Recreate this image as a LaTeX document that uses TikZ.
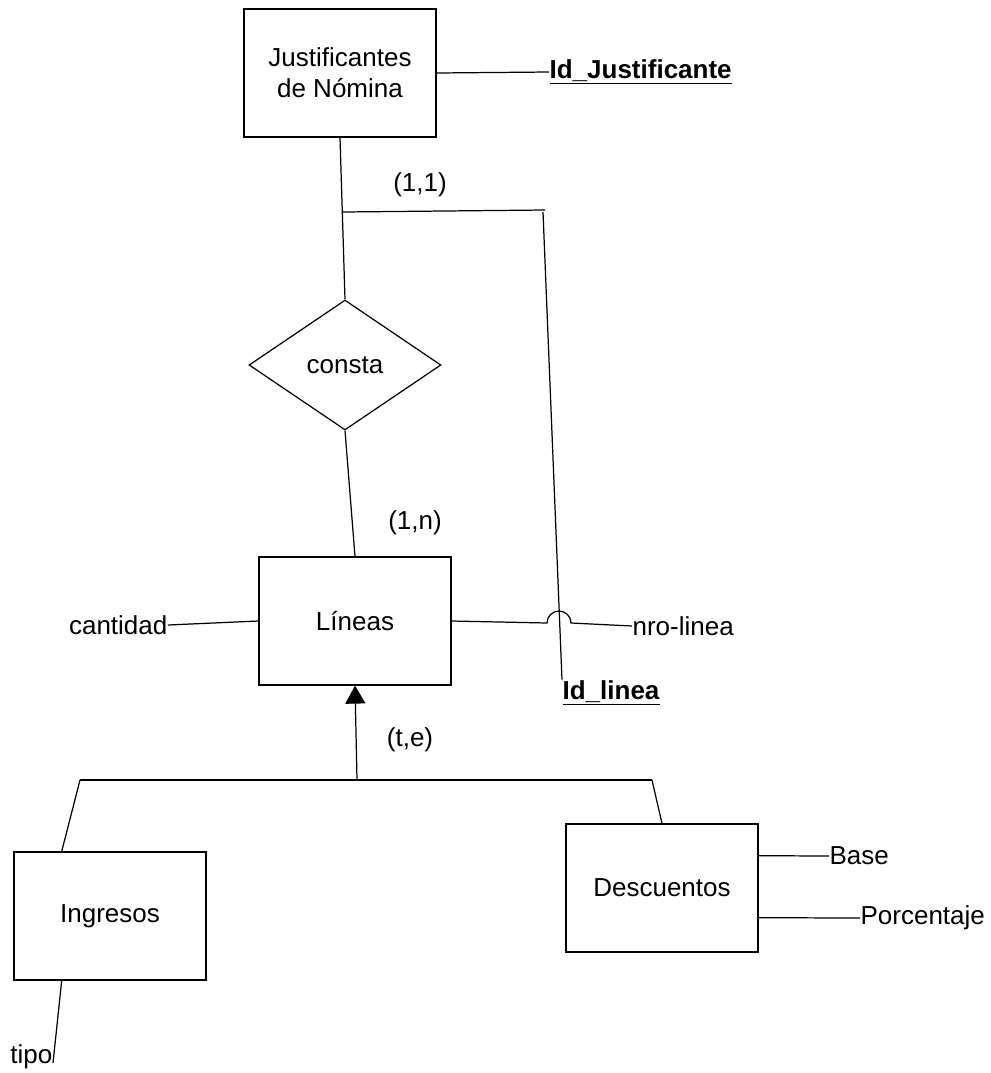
\documentclass[tikz,border=0pt]{standalone}
\usepackage{fontspec}
\setmainfont{Liberation Sans}
\usetikzlibrary{arrows.meta, shapes.geometric, calc}

\begin{document}
\begin{tikzpicture}[x=0.02cm, y=-0.02cm,
        >=Stealth,
        every node/.style={font=\fontsize{14.8}{17.5}\selectfont},
        every path/.style={line width=0.7pt},
        entity/.style={draw, minimum width=3.84cm, minimum height=2.56cm, align=center},
        relation/.style={draw, diamond, aspect=1.5, inner sep=0pt, minimum width=3.84cm, minimum height=2.6cm},
        attr/.style={inner sep=0pt},
        card/.style={inner sep=0pt}]

        \useasboundingbox (0,0) rectangle (991,1073);

        % Entities and relation
        \node[entity] (jn) at (340,73) {Justificantes\\de Nómina};
        \node[relation] (cons) at (345,365) {consta};
        \node[entity] (lin) at (355,621) {Líneas};
        \node[entity] (ing) at (110,916) {Ingresos};
        \node[entity] (des) at (662,888) {Descuentos};

        % Attributes
        \node[attr, anchor=west] (idj) at (549,72) {\underline{\textbf{Id\_Justificante}}};
        \node[attr, anchor=east] (cant) at (168,625) {cantidad};
        \node[attr, anchor=west] (nro) at (632,626) {nro-linea};
        \node[attr, anchor=west] (idl) at (562,693) {\underline{\textbf{Id\_linea}}};
        \node[attr, anchor=west] (base) at (829,856) {Base};
        \node[attr, anchor=west] (porc) at (860,918) {Porcentaje};
        \node[attr, anchor=base east] (tipo) at (53,1063) {tipo};

        % Cardinalities
        \node[card] (c11) at (420,185) {(1,1)};
        \node[card] (c1n) at (415,523) {(1,n)};
        \node[card] (cte) at (410,740) {(t,e)};

        % Relationship lines
        \draw (jn.east) -- (idj.west);
        \draw (jn.south) -- (cons.north);
        \draw (cons.south) -- (lin.north);
        \draw (cant.east) -- (lin.west);

        % Weak key line with hop
        \coordinate (k1) at (343,212);
        \coordinate (k2) at (545,210);
        \coordinate (k3) at (543,212);
        \coordinate (hop) at (547,623);
        \draw (k1) -- (k2);
        \draw (k3) -- (idl.north west);
        \draw (lin.east) -- (hop) arc[start angle=180, end angle=0, radius=0.24cm] -- (nro.west);

        % Generalization
        \coordinate (isa) at (357,780);
        \coordinate (gl) at (80,780);
        \coordinate (gr) at (652,780);
        \draw[-{Triangle[length=0.36cm, width=0.4cm]}] (isa) -- (lin.south);
        \draw (gl) -- (gr);
        \draw (gl) -- ($(ing.north west)!0.25!(ing.north east)$);
        \draw (gr) -- (des.north);

        % Subtype attributes
        \draw ($(ing.south west)!0.25!(ing.south east)$) -- (tipo.base east);
        \draw ($(des.north east)!0.25!(des.south east)$) -- (base.west);
        \draw ($(des.north east)!0.73!(des.south east)$) -- (porc.west);

    \end{tikzpicture}
\end{document}
